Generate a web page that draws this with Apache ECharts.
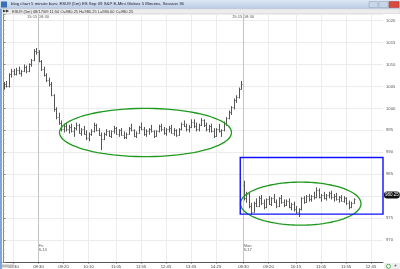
<!DOCTYPE html>
<html><head><meta charset="utf-8">
<script src="https://cdn.jsdelivr.net/npm/echarts@6/dist/echarts.min.js"></script>
<style>html,body{margin:0;padding:0;background:#fff;overflow:hidden}#c{width:400px;height:269px}</style>
</head><body><div id="c"></div>
<script>
// OHLC bars [open, high, low, close]
const thuBars = [
[1005.0,1006.0,1004.25,1005.5],[1005.5,1006.25,1004.75,1005.0],[1005.0,1008.0,1004.75,1007.75],[1007.75,1009.0,1007.0,1008.5],
[1008.5,1009.0,1007.5,1007.75],[1007.75,1009.25,1007.5,1008.75],[1008.75,1009.5,1007.75,1008.0],[1008.0,1008.75,1007.25,1008.5],
[1008.5,1010.0,1008.25,1009.5],[1009.5,1009.75,1008.0,1008.5],[1008.5,1010.25,1008.25,1010.0],[1010.0,1011.25,1009.5,1011.0],
[1011.0,1013.5,1010.75,1013.0],[1013.0,1013.75,1012.25,1012.75]];
const friBars = [
[1012.75,1013.25,1010.5,1010.75],[1010.75,1011.0,1008.5,1009.0],[1009.0,1009.5,1007.25,1007.5],[1007.5,1008.0,1006.0,1006.5],
[1006.5,1007.0,1005.0,1005.5],[1005.5,1006.0,1002.75,1003.0],[1003.0,1003.25,999.25,999.75],[999.75,1000.25,997.5,998.0],
[998.0,999.0,996.25,996.75],[996.75,997.25,994.75,995.25],[995.25,996.5,994.5,996.0],
[996.0,996.75,994.75,995.25],[995.25,996.25,994.25,995.75],[995.75,996.5,994.5,994.75],[994.75,995.75,993.5,995.5],
[995.5,996.75,995.0,996.25],[996.25,996.5,994.25,994.5],[994.5,995.5,993.75,995.25],[995.25,996.0,994.0,994.25],
[994.25,995.0,992.75,993.25],[993.25,994.5,992.5,994.25],[994.25,995.25,993.75,994.75],[994.75,996.75,994.5,996.25],
[996.25,996.5,994.75,995.0],[995.0,995.5,993.75,994.0],[994.0,994.5,990.5,993.0],[993.0,994.5,992.75,994.25],
[994.25,995.25,993.75,994.75],[994.75,995.0,993.5,993.75],[993.75,995.0,993.25,994.75],[994.75,996.0,994.25,995.5],
[995.5,995.75,994.0,994.25],[994.25,995.25,993.5,995.0],[995.0,995.5,993.75,994.0],[994.0,994.75,993.0,993.5],
[993.5,994.5,993.0,994.25],[994.25,995.75,994.0,995.5],[995.5,996.5,994.75,995.0],[995.0,995.25,993.5,993.75],
[993.75,994.75,993.25,994.5],[994.5,996.0,994.25,995.75],[995.75,996.75,995.0,995.25],[995.25,995.75,993.75,994.25],
[994.25,995.25,993.5,994.75],[994.75,995.5,994.0,995.25],[995.25,996.25,994.5,994.75],[994.75,995.0,993.25,993.75],
[993.75,995.0,993.5,994.75],[994.75,996.25,994.5,996.0],[996.0,996.5,994.75,995.25],[995.25,995.75,994.0,994.5],
[994.5,995.5,993.75,995.25],[995.25,996.0,994.5,995.5],[995.5,996.25,994.25,994.5],[994.5,995.5,993.75,995.0],
[995.0,995.25,993.5,994.0],[994.0,995.5,993.75,995.25],[995.25,996.75,995.0,996.5],[996.5,997.25,995.75,996.0],
[996.0,996.5,994.75,995.25],[995.25,996.25,994.5,995.75],[995.75,997.5,995.5,997.0],[997.0,997.5,995.5,996.0],
[996.0,996.75,994.75,995.25],[995.25,996.5,994.75,996.25],[996.25,997.75,996.0,997.25],[997.25,997.5,995.75,996.25],
[996.25,996.75,994.75,995.25],[995.25,996.25,994.5,996.0],[996.0,996.5,994.5,994.75],[994.75,995.5,993.25,993.75],
[993.75,995.5,993.5,995.25],[995.25,996.5,994.5,994.75],[994.75,995.25,993.5,995.0],[995.0,997.0,994.75,996.75],
[996.75,998.0,996.0,997.75],[997.75,999.5,997.5,999.25],[999.25,1000.5,998.5,1000.25],[1000.25,1002.25,999.75,1002.0],
[1002.0,1003.0,1001.25,1002.5],[1002.5,1004.75,1002.25,1004.5],[1004.5,1006.25,1004.25,1005.5]];
const monBars = [
[982.5,983.5,979.0,979.5],[979.5,981.0,978.5,980.5],[980.5,981.0,977.25,977.75],[977.75,978.5,975.75,976.5],
[976.5,978.75,976.25,978.5],[978.5,979.5,977.5,977.75],[977.75,980.0,977.5,979.5],[979.5,980.25,978.0,978.5],
[978.5,979.25,977.0,977.5],[977.5,979.5,977.25,979.25],[979.25,980.0,978.0,978.25],[978.25,979.75,977.75,979.5],
[979.5,980.5,978.5,978.75],[978.75,979.25,977.25,977.75],[977.75,979.75,977.5,979.5],[979.5,980.25,978.25,978.75],
[978.75,979.25,977.5,978.0],[978.0,979.25,977.75,979.0],[979.0,979.5,977.25,977.5],[977.5,978.5,976.75,978.25],
[978.25,978.75,976.5,977.0],[977.0,977.75,976.0,976.5],[976.5,977.25,975.25,977.0],[977.0,979.75,976.75,979.5],
[979.5,980.0,978.25,978.75],[978.75,980.25,978.5,980.0],[980.0,980.5,978.75,979.25],[979.25,980.25,978.75,980.0],
[980.0,981.0,979.25,979.75],[979.75,982.0,979.5,981.5],[981.5,981.75,979.5,979.75],[979.75,980.5,978.75,980.25],
[980.25,981.0,979.25,979.5],[979.5,980.5,979.0,980.25],[980.25,981.0,979.5,980.75],[980.75,981.25,979.25,979.75],
[979.75,980.5,978.75,980.0],[980.0,980.75,979.0,979.25],[979.25,980.0,978.5,979.75],[979.75,980.25,978.75,979.0],
[979.0,980.0,978.5,979.5],[979.5,979.75,978.0,978.5],[978.5,979.0,977.0,977.5],[977.5,978.75,977.25,978.5],
[978.5,979.5,978.25,979.25]];

// x-axis ticks (bar index) and labels
const xTickIdx = [4, 14, 24, 34, 45, 55, 65, 75, 85, 96, 106, 117, 127, 137, 147];
const xTickLabels = ["14:30","08:30","09:20","10:10","11:05","11:55","12:45","13:35","14:25","08:30","09:20","10:15","11:05","11:55","12:45"];
// session breaks / day labels
const breakIdx = [13.8, 95.8];
const breakLabels = ["15:15 08:30", "15:15 08:30"];
const dayIdx = [14, 96];
const dayLabels = ["Fri\n8-14", "Mon\n8-17"];
// annotations: ellipses [centerIdx, centerPrice, halfWidthBars, halfHeightPts]
const ellipses = [[56.8, 994.5, 34.4, 5.5], [118.9, 978.3, 24.1, 4.9]];
// blue box [leftIdx, topPrice, bottomPrice]
const blueBox = [[94.7, 988.8, 975.9]];
const tagPrice = 980.25;
const yMin = 965, yMax = 1021.5, xMin = -0.2, xMax = 151.8;

const allBars = thuBars.concat(friBars, monBars).map((b, i) => [i, b[0], b[1], b[2], b[3]]);
const FONT = 'Liberation Sans';

const chart = echarts.init(document.getElementById('c'), null, {renderer: 'canvas'});
chart.setOption({
  animation: false,
  grid: {left: 3, right: 17, top: 14, bottom: 7},
  xAxis: {
    type: 'value', min: xMin, max: xMax,
    axisLine: {show: true, onZero: false, lineStyle: {color: '#555', width: 1}},
    axisTick: {show: true, length: 1.5, lineStyle: {color: '#555'}, customValues: xTickIdx},
    axisLabel: {show: true, customValues: xTickIdx, fontSize: 4.2, color: '#444', margin: 3, fontFamily: FONT,
      formatter: v => xTickLabels[xTickIdx.indexOf(v)] || ''},
    splitLine: {show: true, lineStyle: {color: '#ececec', width: 1}}
  },
  yAxis: {
    type: 'value', position: 'right', min: yMin, max: yMax, interval: 5,
    axisLine: {show: true, lineStyle: {color: '#888'}},
    axisTick: {show: true, inside: false, length: 2, lineStyle: {color: '#888'}},
    minorTick: {show: true, splitNumber: 5, length: 1, lineStyle: {color: '#aaa'}},
    axisLabel: {fontSize: 4.2, color: '#555', margin: 3, fontFamily: FONT, showMaxLabel: false, showMinLabel: false,
      formatter: v => String(v)},
    splitLine: {show: true, lineStyle: {color: '#ececec', width: 1}},
    axisPointer: {show: true, value: tagPrice, status: 'show', triggerTooltip: false, snap: false,
      lineStyle: {opacity: 0},
      label: {show: true, backgroundColor: '#111', color: '#fff', fontSize: 4.5, fontFamily: FONT,
        padding: [1, 1, 1, 1], margin: 1, formatter: p => Number(p.value).toFixed(2)}}
  },
  graphic: [
    {type: 'rect', shape: {x: 0, y: 0, width: 400, height: 9}, style: {fill: new echarts.graphic.LinearGradient(0, 0, 0, 1, [{offset: 0, color: '#dde8f5'}, {offset: 1, color: '#b8cbe2'}])}, z: 100},
    {type: 'rect', shape: {x: 1, y: 1.5, width: 6, height: 6}, style: {fill: '#3b6fb6'}, z: 101},
    {type: 'text', x: 11, y: 2.2, style: {text: 'blog chart 5 minute bars: ESU9 (5m) ES Sep 09 S&P E-Mini Globex 5 Minutes, Session 36', fontSize: 4.3, fill: '#223', fontFamily: FONT}, z: 101},
    {type: 'rect', shape: {x: 369, y: 1.5, width: 9, height: 6}, style: {fill: '#c9d6e6', stroke: '#8aa0bb', lineWidth: 0.5}, z: 101},
    {type: 'rect', shape: {x: 379, y: 1.5, width: 9, height: 6}, style: {fill: '#c9d6e6', stroke: '#8aa0bb', lineWidth: 0.5}, z: 101},
    {type: 'rect', shape: {x: 389, y: 1.5, width: 10, height: 6}, style: {fill: '#d9493e', stroke: '#a33', lineWidth: 0.5}, z: 101},
    {type: 'rect', shape: {x: 0, y: 9, width: 400, height: 4.5}, style: {fill: '#ededed', stroke: '#cfcfcf', lineWidth: 0.5}, z: 100},
    {type: 'text', x: 3, y: 9.4, style: {text: '\u25B6\u25B6', fontSize: 3.6, fill: '#333', fontFamily: FONT}, z: 101},
    {type: 'text', x: 12, y: 9.5, style: {text: 'ESU9 (5m) 08/17/09 11:50 O=980.25 H=980.25 L=980.00 C=980.25', fontSize: 4, fill: '#333', fontFamily: FONT}, z: 101},
    {type: 'rect', shape: {x: 0, y: 9, width: 2, height: 260}, style: {fill: '#7ea6d6'}, z: 100},
    {type: 'rect', shape: {x: 2, y: 264.5, width: 12, height: 3}, style: {fill: '#bdbdbd'}, z: 100},
    {type: 'rect', shape: {x: 384, y: 263, width: 16, height: 6}, style: {fill: '#eeeeee'}, z: 100},
    {type: 'circle', shape: {cx: 388.5, cy: 266.3, r: 2}, style: {fill: '#fff', stroke: '#2a9a2a', lineWidth: 0.8}, z: 101},
    {type: 'text', x: 394, y: 263.5, style: {text: '+', fontSize: 5, fill: '#444', fontFamily: FONT}, z: 101}
  ],
  series: [
    {
      type: 'custom', name: 'ESU9', data: allBars,
      encode: {x: 0, y: [1, 2, 3, 4]},
      renderItem: function (params, api) {
        const i = api.value(0);
        const pH = api.coord([i, api.value(2)]);
        const pL = api.coord([i, api.value(3)]);
        const pO = api.coord([i, api.value(1)]);
        const pC = api.coord([i, api.value(4)]);
        const x = Math.round(pH[0]) + 0.5;
        const col = '#555';
        return {type: 'group', children: [
          {type: 'line', shape: {x1: x, y1: pH[1], x2: x, y2: pL[1]}, style: {stroke: col, lineWidth: 1}},
          {type: 'line', shape: {x1: x - 1, y1: Math.round(pO[1]) + 0.5, x2: x, y2: Math.round(pO[1]) + 0.5}, style: {stroke: col, lineWidth: 0.8}},
          {type: 'line', shape: {x1: x, y1: Math.round(pC[1]) + 0.5, x2: x + 1, y2: Math.round(pC[1]) + 0.5}, style: {stroke: col, lineWidth: 0.8}}
        ]};
      },
      markLine: {
        silent: true, symbol: 'none', label: {show: false},
        lineStyle: {color: '#c4c4c4', type: 'solid', width: 1},
        data: breakIdx.map(v => ({xAxis: v}))
      },
      z: 5
    },
    {
      type: 'custom', name: 'ellipses', data: ellipses, silent: true,
      renderItem: function (params, api) {
        const c = api.coord([api.value(0), api.value(1)]);
        const e = api.coord([api.value(0) + api.value(2), api.value(1) - api.value(3)]);
        const rx = e[0] - c[0], ry = e[1] - c[1];
        const pts = [];
        for (let k = 0; k < 90; k++) { const t = k / 90 * Math.PI * 2; pts.push([c[0] + rx * Math.cos(t), c[1] + ry * Math.sin(t)]); }
        return {type: 'polygon', shape: {points: pts}, style: {fill: 'none', stroke: '#1f9a1f', lineWidth: 1.3}};
      },
      z: 6
    },
    {
      type: 'custom', name: 'box', data: blueBox, silent: true,
      renderItem: function (params, api) {
        const tl = api.coord([api.value(0), api.value(1)]);
        const br = api.coord([xMax, api.value(2)]);
        return {type: 'rect', shape: {x: tl[0], y: tl[1], width: br[0] - tl[0], height: br[1] - tl[1]}, style: {fill: 'none', stroke: '#1010ff', lineWidth: 1.4}};
      },
      z: 6
    },
    {
      type: 'scatter', name: 'days', symbolSize: 0, silent: true,
      data: dayIdx.map((v, i) => [v, 968.2, dayLabels[i]]),
      label: {show: true, position: 'right', distance: 0, formatter: p => p.value[2], fontSize: 4.2, lineHeight: 4.6, color: '#333', fontFamily: FONT}
    },
    {
      type: 'scatter', name: 'breaks', symbolSize: 0, silent: true,
      data: breakIdx.map((v, i) => [v, yMax, breakLabels[i]]),
      label: {show: true, position: 'bottom', distance: 0.5, formatter: p => p.value[2], fontSize: 4.2, color: '#333', fontFamily: FONT}
    }
  ]
});
</script></body></html>
